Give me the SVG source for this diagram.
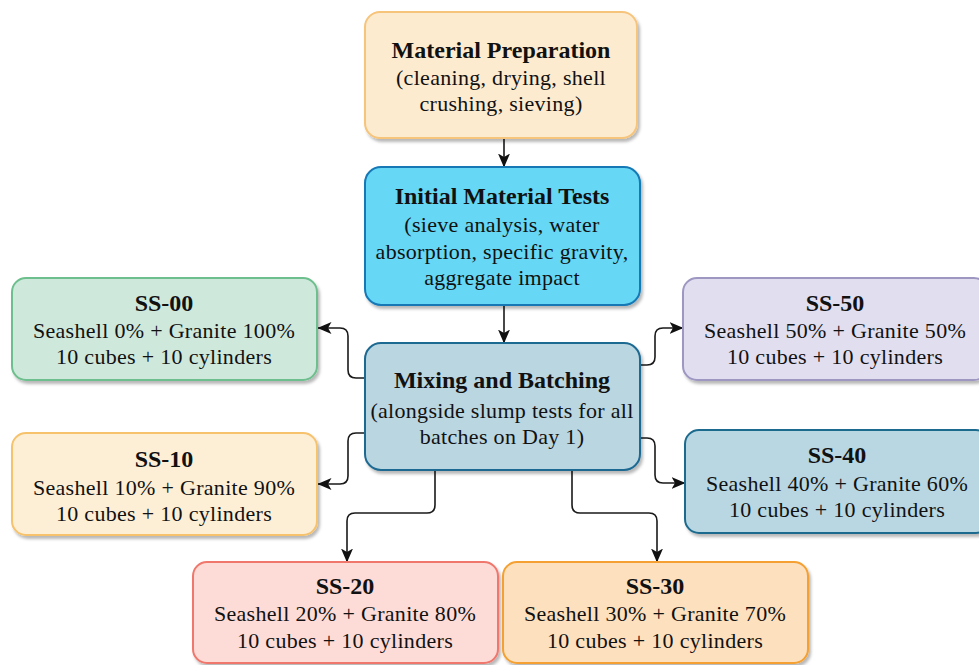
<svg xmlns="http://www.w3.org/2000/svg" width="979" height="665" viewBox="0 0 979 665">
<defs>
<filter id="sh" x="-10%" y="-10%" width="125%" height="130%">
<feDropShadow dx="2" dy="3" stdDeviation="1.5" flood-color="#000" flood-opacity="0.28"/>
</filter>
<marker id="arr" viewBox="0 0 14 14" refX="13.5" refY="7" markerWidth="14" markerHeight="14" markerUnits="userSpaceOnUse" orient="auto">
<path d="M0,1 L14,7 L0,13 L3.5,7 z" fill="#111"/>
</marker>
</defs>
<style>
.box{stroke-width:2;filter:url(#sh)}
text{font-family:"Liberation Serif","Times New Roman",serif;fill:#111;text-anchor:middle}
.t{font-weight:bold;font-size:24px}
.b{font-size:22px;letter-spacing:0.3px}
.c{fill:none;stroke:#1a1a1a;stroke-width:1.6;marker-end:url(#arr)}
</style>
<rect width="979" height="665" fill="#fff"/>
<g id="connectors">
<path class="c" d="M504,138 V167"/>
<path class="c" d="M504,305 V343"/>
<path class="c" d="M365,378 H356 Q348,378 348,370 V336 Q348,328 340,328 H318"/>
<path class="c" d="M365,433 H356 Q348,433 348,441 V476 Q348,484 340,484 H318"/>
<path class="c" d="M640,365 H647 Q655,365 655,357 V336 Q655,328 663,328 H683"/>
<path class="c" d="M640,438 H647 Q655,438 655,446 V475 Q655,483 663,483 H685"/>
<path class="c" d="M435,470 V505 Q435,513 427,513 H355 Q347,513 347,521 V562"/>
<path class="c" d="M572,470 V505 Q572,513 580,513 H649 Q657,513 657,521 V562"/>
</g>
<g id="prep">
<rect class="box" x="365" y="12" width="272" height="126" rx="15" fill="#fdebd0" stroke="#f6c47a"/>
<text class="t" x="501" y="58">Material Preparation</text>
<text class="b" x="501" y="85">(cleaning, drying, shell</text>
<text class="b" x="501" y="111">crushing, sieving)</text>
</g>
<g id="tests">
<rect class="box" x="365" y="167" width="275" height="138" rx="16" fill="#66d7f4" stroke="#1479b6"/>
<text class="t" x="502" y="204">Initial Material Tests</text>
<text class="b" x="502" y="232">(sieve analysis, water</text>
<text class="b" x="502" y="259">absorption, specific gravity,</text>
<text class="b" x="502" y="285">aggregate impact</text>
</g>
<g id="mixing">
<rect class="box" x="365" y="343" width="275" height="127" rx="16" fill="#b9d6e1" stroke="#1f6a92"/>
<text class="t" x="502" y="388">Mixing and Batching</text>
<text class="b" x="502" y="418">(alongside slump tests for all</text>
<text class="b" x="502" y="444">batches on Day 1)</text>
</g>
<g id="ss00">
<rect class="box" x="12" y="278" width="305" height="102" rx="14" fill="#cfe8dc" stroke="#6dbf8d"/>
<text class="t" x="164" y="311">SS-00</text>
<text class="b" x="164" y="338">Seashell 0% + Granite 100%</text>
<text class="b" x="164" y="364">10 cubes + 10 cylinders</text>
</g>
<g id="ss10">
<rect class="box" x="12" y="433" width="305" height="102" rx="14" fill="#fdefd6" stroke="#f6c26c"/>
<text class="t" x="164" y="467">SS-10</text>
<text class="b" x="164" y="495">Seashell 10% + Granite 90%</text>
<text class="b" x="164" y="521">10 cubes + 10 cylinders</text>
</g>
<g id="ss50">
<rect class="box" x="683" y="278" width="305" height="102" rx="14" fill="#e1def0" stroke="#9e97c2"/>
<text class="t" x="835" y="311">SS-50</text>
<text class="b" x="835" y="338">Seashell 50% + Granite 50%</text>
<text class="b" x="835" y="364">10 cubes + 10 cylinders</text>
</g>
<g id="ss40">
<rect class="box" x="685" y="430" width="305" height="103" rx="14" fill="#b8d7e3" stroke="#1c6b8e"/>
<text class="t" x="837" y="463">SS-40</text>
<text class="b" x="837" y="491">Seashell 40% + Granite 60%</text>
<text class="b" x="837" y="517">10 cubes + 10 cylinders</text>
</g>
<g id="ss20">
<rect class="box" x="193" y="562" width="305" height="101" rx="14" fill="#fddcd8" stroke="#f0776c"/>
<text class="t" x="345" y="594">SS-20</text>
<text class="b" x="345" y="621">Seashell 20% + Granite 80%</text>
<text class="b" x="345" y="648">10 cubes + 10 cylinders</text>
</g>
<g id="ss30">
<rect class="box" x="503" y="562" width="305" height="101" rx="14" fill="#fde0be" stroke="#f5a031"/>
<text class="t" x="655" y="594">SS-30</text>
<text class="b" x="655" y="621">Seashell 30% + Granite 70%</text>
<text class="b" x="655" y="648">10 cubes + 10 cylinders</text>
</g>
</svg>
